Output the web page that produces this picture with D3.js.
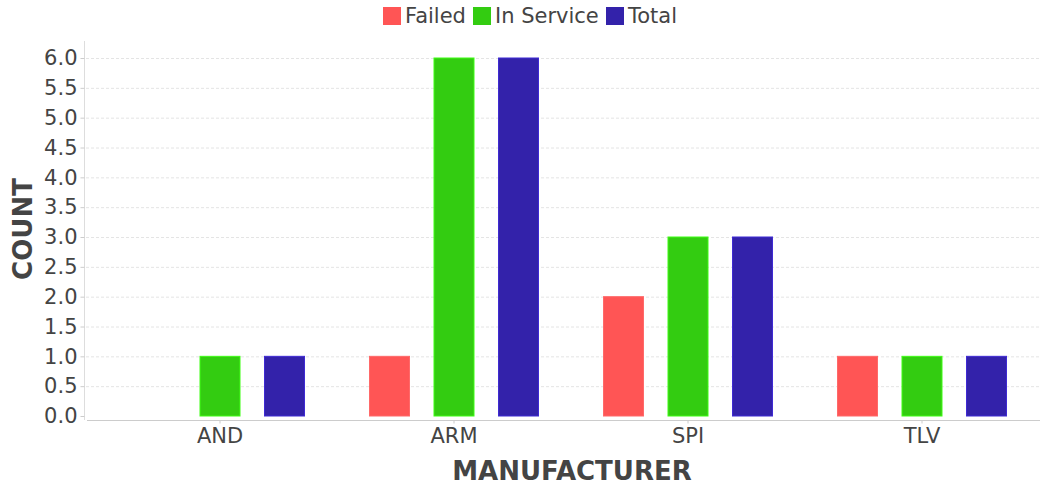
<!DOCTYPE html>
<html>
<head>
<meta charset="utf-8">
<script src="https://cdn.jsdelivr.net/npm/d3@7"></script>
<style>
  body { margin: 0; background: #fff; }
  text { font-family: "DejaVu Sans", sans-serif; fill: #444; }
</style>
</head>
<body>
<div id="chart"></div>
<script>
var svgWidth = 1044;
var svgHeight = 485;

// data
var manufacturers = ["AND", "ARM", "SPI", "TLV"];
var seriesNames = ["Failed", "In Service", "Total"];
var seriesColors = ["#ff5555", "#33cc11", "#3322aa"];
var failed = [0, 1, 2, 1];
var inService = [1, 6, 3, 1];
var total = [1, 6, 3, 1];
var yTicks = [0, 0.5, 1, 1.5, 2, 2.5, 3, 3.5, 4, 4.5, 5, 5.5, 6];

var seriesValues = [failed, inService, total];

var svg = d3.select("#chart").append("svg")
  .attr("width", svgWidth)
  .attr("height", svgHeight);

// scales
var xScale = d3.scaleBand()
  .domain(manufacturers)
  .range([103, 1039]);

var seriesScale = d3.scalePoint()
  .domain(seriesNames)
  .range([-64.5, 64.5]);

var yScale = d3.scaleLinear()
  .domain([0, 6])
  .range([416, 58]);

var barWidth = 40;

// gridlines
svg.append("g")
  .selectAll("line")
  .data(yTicks.slice(1))
  .enter()
  .append("line")
  .attr("x1", 86)
  .attr("x2", 1040)
  .attr("y1", d => yScale(d) + 0.5)
  .attr("y2", d => yScale(d) + 0.5)
  .attr("stroke", "#e4e4e4")
  .attr("stroke-dasharray", "3,2");

// y axis
var yAxis = svg.append("g")
  .attr("transform", "translate(84.5, 0)")
  .call(d3.axisLeft(yScale).tickValues(yTicks).tickFormat(d3.format(".1f")).tickSize(4).tickPadding(3));
yAxis.select(".domain").attr("d", "M0,41V420").attr("stroke", "#ddd");
yAxis.selectAll(".tick line").attr("stroke", "#ccc");
yAxis.selectAll("text")
  .attr("font-size", 21)
  .attr("fill", "#444");

// x axis
var xAxis = svg.append("g")
  .attr("transform", "translate(0, 420.5)")
  .call(d3.axisBottom(xScale).tickSize(3).tickPadding(5));
xAxis.select(".domain").attr("d", "M87,0H1040").attr("stroke", "#ccc");
xAxis.selectAll(".tick line").attr("stroke", "#ccc");
xAxis.selectAll("text")
  .attr("font-size", 21)
  .attr("fill", "#444");

// bars
var rows = [];
manufacturers.forEach(function(m, i) {
  seriesNames.forEach(function(s, j) {
    rows.push({ manufacturer: m, series: s, value: seriesValues[j][i], color: seriesColors[j] });
  });
});

svg.append("g")
  .selectAll("rect")
  .data(rows.filter(d => d.value > 0))
  .enter()
  .append("rect")
  .attr("x", d => xScale(d.manufacturer) + xScale.bandwidth() / 2 + seriesScale(d.series) - barWidth / 2)
  .attr("y", d => yScale(d.value))
  .attr("width", barWidth)
  .attr("height", d => yScale(0) - yScale(d.value))
  .attr("fill", d => d.color)
  .attr("stroke", d => d3.color(d.color).brighter(0.6))
  .attr("stroke-width", 1);

// axis titles
svg.append("text")
  .attr("x", 572)
  .attr("y", 480)
  .attr("text-anchor", "middle")
  .attr("font-size", 26)
  .attr("font-weight", "bold")
  .attr("fill", "#444")
  .text("MANUFACTURER");

svg.append("text")
  .attr("transform", "translate(32, 229) rotate(-90)")
  .attr("text-anchor", "middle")
  .attr("font-size", 26)
  .attr("font-weight", "bold")
  .attr("fill", "#444")
  .text("COUNT");

// legend
var legendX = [383, 473, 606];
var legend = svg.append("g");
seriesNames.forEach(function(s, j) {
  legend.append("rect")
    .attr("x", legendX[j])
    .attr("y", 7)
    .attr("width", 18)
    .attr("height", 18)
    .attr("fill", seriesColors[j]);
  legend.append("text")
    .attr("x", legendX[j] + 22)
    .attr("y", 23)
    .attr("font-size", 21)
    .attr("fill", "#444")
    .text(s);
});
</script>
</body>
</html>
